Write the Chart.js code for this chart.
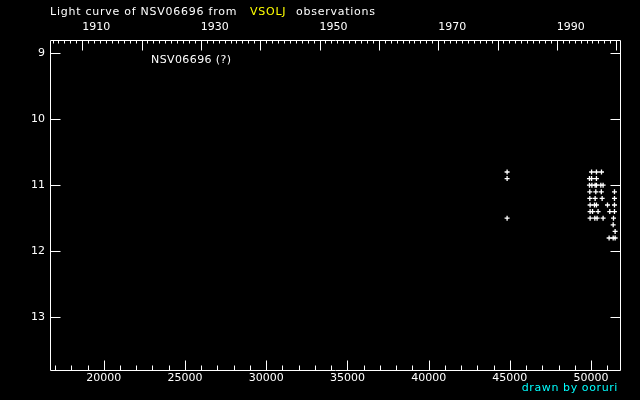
<!DOCTYPE html>
<html lang="en">
<head>
    <meta charset="UTF-8">
    <title>Light curve of NSV06696</title>
    <script src="https://cdn.jsdelivr.net/npm/chart.js"></script>
    <style>
        body {
            margin: 0;
            background-color: #000;
            font-family: "DejaVu Sans", sans-serif;
        }
        #wrap {
            position: relative;
            width: 640px;
            height: 400px;
        }
        canvas {
            position: absolute;
            left: 0;
            top: 0;
        }
        .txt {
            position: absolute;
            font-size: 11px;
            line-height: 14px;
            letter-spacing: 0.4px;
            white-space: pre;
            color: #fff;
        }
    </style>
</head>
<body>
<div id="wrap">
    <canvas id="chart" width="640" height="400"></canvas>
    <div class="txt" style="left:50px; top:5px; letter-spacing:0.75px;">Light curve of NSV06696 from</div>
    <div class="txt" style="left:250px; top:5px; color:#ffff00; letter-spacing:0.75px;">VSOLJ</div>
    <div class="txt" style="left:296px; top:5px; letter-spacing:0.75px;">observations</div>
    <div class="txt" style="left:151px; top:53px;">NSV06696 (?)</div>
    <div class="txt" style="right:22px; top:381px; color:#00ffff; letter-spacing:0.6px;">drawn by ooruri</div>
</div>
<script>
    // observations (JD - 2400000, magnitude)
    const obsJD = [
        44830, 44830, 44830,
        50030, 50330, 50640,
        49900, 50030, 50330,
        49900, 50050, 50250, 50330, 50600, 50740,
        49920, 50290, 50630, 51440,
        49920, 50250, 50680, 51440,
        49940, 50210, 50330, 51010, 51440,
        49940, 50090, 50430, 51150, 51440,
        49940, 50230, 50370, 50740, 51380,
        51360,
        51480,
        51110, 51360, 51480
    ];
    const obsMag = [
        10.8, 10.9, 11.5,
        10.8, 10.8, 10.8,
        10.9, 10.9, 10.9,
        11.0, 11.0, 11.0, 11.0, 11.0, 11.0,
        11.1, 11.1, 11.1, 11.1,
        11.2, 11.2, 11.2, 11.2,
        11.3, 11.3, 11.3, 11.3, 11.3,
        11.4, 11.4, 11.4, 11.4, 11.4,
        11.5, 11.5, 11.5, 11.5, 11.5,
        11.6,
        11.7,
        11.8, 11.8, 11.8
    ];

    const jdLabels = [20000, 25000, 30000, 35000, 40000, 45000, 50000];
    const yearLabels = [1910, 1930, 1950, 1970, 1990];
    const magLabels = [9, 10, 11, 12, 13];

    const jdMin = 16690, jdMax = 51780;
    const magMin = 8.8, magMax = 13.8;

    const jdToYear = (jd) => 2000 + (jd - 51545) / 365.25;

    const tickFont = { family: 'DejaVu Sans', size: 11 };
    const plain = (v) => String(v);

    // frame + inward tick marks, placed through the chart scales
    const axisMarks = {
        id: 'axisMarks',
        afterDraw(chart) {
            const { ctx, chartArea: a, scales } = chart;
            const px = (v) => Math.round(v) + 0.5;
            ctx.save();
            ctx.strokeStyle = '#fff';
            ctx.lineWidth = 1;
            ctx.beginPath();
            ctx.rect(px(a.left), px(a.top), Math.round(a.right - a.left), Math.round(a.bottom - a.top));

            // bottom: minor every 1000, major every 5000
            for (let v = Math.ceil(jdMin / 1000) * 1000; v <= jdMax; v += 1000) {
                const x = px(scales.x.getPixelForValue(v));
                const len = v % 5000 === 0 ? 10 : 5;
                ctx.moveTo(x, px(a.bottom));
                ctx.lineTo(x, px(a.bottom) - len);
            }
            // top: minor every year, major every 10 years
            const y0 = Math.ceil(scales.x2.min), y1 = Math.floor(scales.x2.max);
            for (let v = y0; v <= y1; v++) {
                const x = px(scales.x2.getPixelForValue(v));
                const len = v % 10 === 0 ? 10 : 3;
                ctx.moveTo(x, px(a.top));
                ctx.lineTo(x, px(a.top) + len);
            }
            // left and right: magnitudes
            magLabels.forEach((m) => {
                const y = px(scales.y.getPixelForValue(m));
                ctx.moveTo(px(a.left), y);
                ctx.lineTo(px(a.left) + 10, y);
                ctx.moveTo(px(a.right), y);
                ctx.lineTo(px(a.right) - 10, y);
            });
            ctx.stroke();
            ctx.restore();
        }
    };

    const ctx = document.getElementById('chart').getContext('2d');
    const chart = new Chart(ctx, {
        type: 'scatter',
        data: {
            datasets: [{
                data: obsJD.map((jd, i) => ({ x: jd, y: obsMag[i] })),
                pointStyle: 'cross',
                pointRadius: 2.5,
                borderColor: '#fff',
                backgroundColor: '#fff',
                borderWidth: 1.3,
            }]
        },
        options: {
            responsive: false,
            animation: false,
            devicePixelRatio: 1,
            layout: { padding: { left: 0, right: 20, top: 0, bottom: 0 } },
            plugins: {
                legend: { display: false },
                tooltip: { enabled: false },
            },
            scales: {
                x: {
                    type: 'linear',
                    position: 'bottom',
                    min: jdMin,
                    max: jdMax,
                    grid: { display: false, drawTicks: false },
                    border: { display: false },
                    ticks: { color: '#fff', font: tickFont, padding: 2, maxRotation: 0, callback: plain },
                    afterBuildTicks: (s) => { s.ticks = jdLabels.map((v) => ({ value: v })); },
                    afterFit: (s) => { s.height = 30; },
                },
                x2: {
                    type: 'linear',
                    axis: 'x',
                    position: 'top',
                    min: jdToYear(jdMin),
                    max: jdToYear(jdMax),
                    grid: { display: false, drawTicks: false },
                    border: { display: false },
                    ticks: { color: '#fff', font: tickFont, padding: 6, align: 'start', maxRotation: 0, callback: plain },
                    afterBuildTicks: (s) => { s.ticks = yearLabels.map((v) => ({ value: v })); },
                    afterFit: (s) => { s.height = 40; },
                },
                y: {
                    reverse: true,
                    min: magMin,
                    max: magMax,
                    grid: { display: false, drawTicks: false },
                    border: { display: false },
                    ticks: { color: '#fff', font: tickFont, padding: 5, callback: plain },
                    afterBuildTicks: (s) => { s.ticks = magLabels.map((v) => ({ value: v })); },
                    afterFit: (s) => { s.width = 50; },
                },
            },
        },
        plugins: [axisMarks],
    });
</script>
</body>
</html>
